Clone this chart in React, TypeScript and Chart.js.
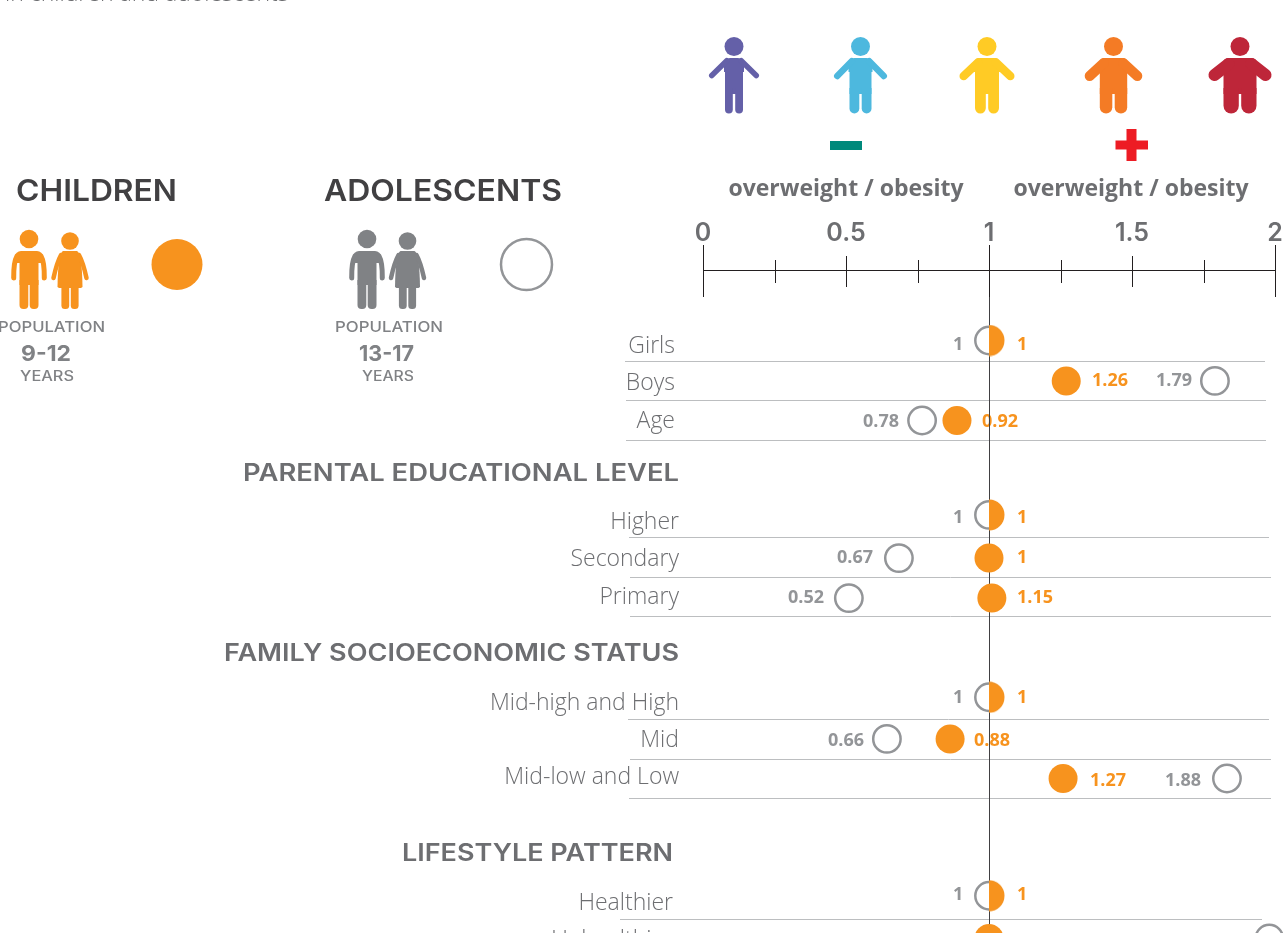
import React, { useEffect, useRef } from "react";
import { Chart, registerables } from "chart.js";

Chart.register(...registerables);

const categories = ["Girls", "Boys", "Age", "Higher", "Secondary", "Primary", "Mid-high and High", "Mid", "Mid-low and Low", "Healthier", "Unhealthier"];
const rowPositions = [0, 1.01, 2, 4.36, 5.44, 6.44, 8.92, 9.96, 10.95, 13.88, 14.95];
const childValues = [1, 1.27, 0.888, 1, 1, 1.01, 1, 0.864, 1.259, 1, 1];
const adolescentValues = [1, 1.79, 0.766, 1, 0.685, 0.51, 1, 0.643, 1.832, 1, 1.98];
const childLabels = ["1", "1.26", "0.92", "1", "1", "1.15", "1", "0.88", "1.27", "1", ""];
const adolescentLabels = ["1", "1.79", "0.78", "1", "0.67", "0.52", "1", "0.66", "1.88", "1", ""];
const axisLabels = ["0", "0.5", "1", "1.5", "2"];

const sectionHeaders = [
  { text: "PARENTAL EDUCATIONAL LEVEL", left: 243, right: 679, base: 481 },
  { text: "FAMILY SOCIOECONOMIC STATUS", left: 224, right: 679, base: 661 },
  { text: "LIFESTYLE PATTERN", left: 402, right: 673, base: 861 },
];

// decoration layout for each row: label right edge/baseline, separator, value-label anchors
const rowLayout = [
  { r: 675, b: 353, l: 625, e: 1265, s: 361, cx: 1017, ax: 953, vy: 350 },
  { r: 675, b: 390, l: 626, e: 1266, s: 400, cx: 1092, ax: 1156, vy: 386 },
  { r: 675, b: 428, l: 626, e: 1266, s: 440, cx: 982, ax: 863, vy: 427 },
  { r: 679, b: 529, l: 629, e: 1269, s: 537, cx: 1017, ax: 953, vy: 523 },
  { r: 679, b: 566, l: 630, e: 1271, s: 577, cx: 1017, ax: 837, vy: 563 },
  { r: 679, b: 604, l: 630, e: 1271, s: 616, cx: 1017, ax: 788, vy: 603 },
  { r: 679, b: 710, l: 628, e: 1269, s: 719, cx: 1017, ax: 953, vy: 703 },
  { r: 679, b: 747, l: 630, e: 1271, s: 759, cx: 974, ax: 828, vy: 746 },
  { r: 679, b: 784, l: 629, e: 1271, s: 798, cx: 1090, ax: 1165, vy: 786 },
  { r: 673, b: 910, l: 620, e: 1262, s: 919, cx: 1017, ax: 953, vy: 900 },
  { r: 673, b: 947, l: 620, e: 1262, s: 958, cx: 1017, ax: 953, vy: 950 },
];

const ORANGE = "#F7931E";
const RING = "#939598";
const GREY = "#6D6E71";
const ICON_GREY = "#808285";

type Ctx = CanvasRenderingContext2D;

function text(ctx: Ctx, s: string, x: number, y: number, font: string, color: string, align: CanvasTextAlign = "left") {
  ctx.font = font;
  ctx.fillStyle = color;
  ctx.textAlign = align;
  ctx.textBaseline = "alphabetic";
  ctx.fillText(s, x, y);
}

// geometric display face: stretch horizontally to fill the given extent
function wide(ctx: Ctx, s: string, left: number, right: number, y: number, font: string, color: string) {
  ctx.save();
  ctx.font = font;
  ctx.fillStyle = color;
  ctx.textAlign = "left";
  ctx.textBaseline = "alphabetic";
  const m = ctx.measureText(s).width;
  ctx.translate(left, y);
  ctx.scale((right - left) / m, 1);
  ctx.fillText(s, 0, 0);
  ctx.restore();
}

function rr(ctx: Ctx, x: number, y: number, w: number, h: number, radii: number[] | number) {
  ctx.beginPath();
  ctx.roundRect(x, y, w, h, radii as any);
  ctx.fill();
}

function person(ctx: Ctx, cx: number, color: string, half: number, span: number, arm: number, endY: number, headR: number) {
  ctx.fillStyle = color;
  ctx.strokeStyle = color;
  ctx.beginPath();
  ctx.arc(cx, 46.5, headR, 0, Math.PI * 2);
  ctx.fill();
  rr(ctx, cx - half - 1, 58, half * 2 + 2, 14, [6, 6, 0, 0]);
  rr(ctx, cx - half, 62, half * 2, 32, 0);
  const legW = half - 1.2;
  rr(ctx, cx - half, 88, legW, 25.5, [0, 0, legW / 2, legW / 2]);
  rr(ctx, cx + 1.2, 88, legW, 25.5, [0, 0, legW / 2, legW / 2]);
  ctx.lineCap = "round";
  ctx.lineJoin = "round";
  ctx.lineWidth = arm;
  for (const d of [-1, 1]) {
    ctx.beginPath();
    ctx.moveTo(cx + d * (half - arm / 2 + 1), 58 + arm / 2);
    ctx.lineTo(cx + d * (span - arm / 2), endY);
    ctx.stroke();
  }
  ctx.lineCap = "butt";
}

function boy(ctx: Ctx, cx: number, color: string) {
  ctx.fillStyle = color;
  ctx.strokeStyle = color;
  ctx.beginPath();
  ctx.arc(cx, 239, 9.3, 0, Math.PI * 2);
  ctx.fill();
  rr(ctx, cx - 14, 251, 28, 12, [6, 6, 0, 0]);
  rr(ctx, cx - 9.5, 255, 19, 30, 0);
  rr(ctx, cx - 9.5, 280, 8.8, 29, [0, 0, 4, 4]);
  rr(ctx, cx + 0.7, 280, 8.8, 29, [0, 0, 4, 4]);
  ctx.lineCap = "round";
  ctx.lineWidth = 5;
  for (const d of [-1, 1]) {
    ctx.beginPath();
    ctx.moveTo(cx + d * 12, 256);
    ctx.quadraticCurveTo(cx + d * 15.5, 262, cx + d * 15.3, 278);
    ctx.stroke();
  }
  ctx.lineCap = "butt";
}

function girl(ctx: Ctx, cx: number, color: string) {
  ctx.fillStyle = color;
  ctx.strokeStyle = color;
  ctx.beginPath();
  ctx.arc(cx, 241, 8.8, 0, Math.PI * 2);
  ctx.fill();
  ctx.beginPath();
  ctx.moveTo(cx - 7, 251);
  ctx.lineTo(cx + 7, 251);
  ctx.quadraticCurveTo(cx + 12, 253, cx + 12.5, 287);
  ctx.lineTo(cx + 11, 288);
  ctx.lineTo(cx - 11, 288);
  ctx.lineTo(cx - 12.5, 287);
  ctx.quadraticCurveTo(cx - 12, 253, cx - 7, 251);
  ctx.fill();
  rr(ctx, cx - 8.6, 285, 7.8, 24, [0, 0, 3.5, 3.5]);
  rr(ctx, cx + 0.8, 285, 7.8, 24, [0, 0, 3.5, 3.5]);
  ctx.lineCap = "round";
  ctx.lineWidth = 4.5;
  for (const d of [-1, 1]) {
    ctx.beginPath();
    ctx.moveTo(cx + d * 9, 255);
    ctx.quadraticCurveTo(cx + d * 13, 262, cx + d * 16.5, 278);
    ctx.stroke();
  }
  ctx.lineCap = "butt";
}

function halfMarker(): HTMLCanvasElement {
  const c = document.createElement("canvas");
  c.width = 32;
  c.height = 32;
  const g = c.getContext("2d")!;
  g.fillStyle = ORANGE;
  g.beginPath();
  g.arc(16, 16, 15.5, -Math.PI / 2, Math.PI / 2);
  g.closePath();
  g.fill();
  return c;
}

const decorations = {
  id: "decorations",
  beforeDatasetsDraw(chart: any) {
    const ctx: Ctx = chart.ctx;
    const x = chart.scales.x;
    ctx.save();

    // clipped subtitle
    text(ctx, "in children and adolescents", 5, 1, '300 23px "Open Sans"', GREY);

    // body-type pictograms
    person(ctx, 734, "#6460A8", 9, 25, 5.5, 75.5, 9.5);
    person(ctx, 860.5, "#4DB8DE", 11, 26.5, 6.5, 76, 9.5);
    person(ctx, 987, "#FFCB25", 12, 27.5, 8.5, 76, 9.5);
    person(ctx, 1113.5, "#F47B25", 13.7, 28.8, 10, 76, 9.5);
    person(ctx, 1240, "#BE2639", 16.5, 31.5, 12, 75, 9.5);

    ctx.fillStyle = "#00897B";
    ctx.fillRect(830, 141, 32, 9);
    ctx.fillStyle = "#ED1C24";
    ctx.fillRect(1115.5, 140.5, 32.5, 9);
    ctx.fillRect(1126.5, 129, 10, 32);

    text(ctx, "overweight / obesity", 846, 196, '700 23px "Open Sans"', GREY, "center");
    text(ctx, "overweight / obesity", 1131, 196, '700 23px "Open Sans"', GREY, "center");

    // children / adolescents key
    wide(ctx, "CHILDREN", 16, 177, 201, "600 30px Inter", "#414042");
    wide(ctx, "ADOLESCENTS", 324, 562, 201, "600 30px Inter", "#414042");
    boy(ctx, 29, ORANGE);
    girl(ctx, 70, ORANGE);
    boy(ctx, 367, ICON_GREY);
    girl(ctx, 407.5, ICON_GREY);
    ctx.fillStyle = ORANGE;
    ctx.beginPath();
    ctx.arc(177, 264.5, 25.5, 0, Math.PI * 2);
    ctx.fill();
    ctx.strokeStyle = RING;
    ctx.lineWidth = 2.5;
    ctx.beginPath();
    ctx.arc(526.5, 264.5, 25.5, 0, Math.PI * 2);
    ctx.stroke();
    wide(ctx, "POPULATION", -2, 105, 332, "500 15px Inter", ICON_GREY);
    wide(ctx, "9-12", 21, 71, 361, "700 22px Inter", ICON_GREY);
    wide(ctx, "YEARS", 20, 74, 381, "500 14px Inter", ICON_GREY);
    wide(ctx, "POPULATION", 335, 443, 332, "500 15px Inter", ICON_GREY);
    wide(ctx, "13-17", 359, 414, 361, "700 22px Inter", ICON_GREY);
    wide(ctx, "YEARS", 362, 414, 381, "500 14px Inter", ICON_GREY);

    // axis ticks, taken from the scale's own ticks
    ctx.strokeStyle = "#231F20";
    ctx.lineWidth = 1;
    x.ticks.forEach((t: any) => {
      const px = Math.round(x.getPixelForValue(t.value)) + 0.5;
      const isEnd = t.value % 1 === 0;
      const isHalf = t.value % 0.5 === 0;
      const top = isEnd ? 245 : isHalf ? 256 : 260;
      const bottom = isEnd ? 297 : isHalf ? 287 : 283;
      ctx.beginPath();
      ctx.moveTo(px, top);
      ctx.lineTo(px, bottom);
      ctx.stroke();
    });

    // section headers, row labels, separators
    sectionHeaders.forEach((h) => wide(ctx, h.text, h.left, h.right, h.base, "600 24px Inter", GREY));
    categories.forEach((c, i) => {
      const l = rowLayout[i];
      text(ctx, c, l.r, l.b, '300 23px "Open Sans"', GREY, "right");
      ctx.strokeStyle = "#BCBEC0";
      ctx.lineWidth = 1;
      ctx.beginPath();
      ctx.moveTo(l.l, l.s + 0.5);
      ctx.lineTo(l.e, l.s + 0.5);
      ctx.stroke();
      if (childLabels[i]) text(ctx, childLabels[i], l.cx, l.vy, '700 18px "Open Sans"', ORANGE);
      if (adolescentLabels[i]) text(ctx, adolescentLabels[i], l.ax, l.vy, '700 18px "Open Sans"', RING);
    });

    // reference line at 1
    const ref = Math.round(x.getPixelForValue(1)) + 0.5;
    ctx.strokeStyle = "#414042";
    ctx.lineWidth = 1;
    ctx.beginPath();
    ctx.moveTo(ref, 297);
    ctx.lineTo(ref, 933);
    ctx.stroke();
    ctx.restore();
  },
};

export default function App() {
  const ref = useRef<HTMLCanvasElement>(null);
  useEffect(() => {
    const half = halfMarker();
    const chart = new Chart(ref.current!, {
      type: "scatter",
      data: {
        labels: categories,
        datasets: [
          {
            label: "Adolescents 13-17 years",
            data: adolescentValues.map((v, i) => ({ x: v, y: rowPositions[i] })),
            order: 2,
            pointStyle: "circle",
            pointRadius: 13.7,
            pointBorderWidth: 2.5,
            pointBorderColor: RING,
            pointBackgroundColor: "rgba(255,255,255,0)",
            clip: false,
          },
          {
            label: "Children 9-12 years",
            data: childValues.map((v, i) => ({ x: v, y: rowPositions[i] })),
            order: 1,
            pointStyle: (c: any) => (c.raw && c.raw.x === 1 && adolescentValues[c.dataIndex] === 1 ? half : "circle"),
            pointRadius: 14.5,
            pointBorderWidth: 0,
            pointBackgroundColor: ORANGE,
            clip: false,
          },
        ],
      } as any,
      options: {
        responsive: false,
        animation: false,
        events: [],
        layout: { autoPadding: false, padding: { left: 703, right: 8, top: 200, bottom: 0 } },
        plugins: { legend: { display: false }, tooltip: { enabled: false } },
        scales: {
          x: {
            type: "linear",
            position: "top",
            min: 0,
            max: 2,
            afterFit(scale: any) {
              scale.height = 70;
              scale.paddingLeft = 0;
              scale.paddingRight = 0;
            },
            grid: { display: false, drawTicks: false },
            border: { display: true, color: "#231F20", width: 1 },
            ticks: {
              stepSize: 0.25,
              autoSkip: false,
              maxRotation: 0,
              padding: 22,
              color: GREY,
              font: { family: "Inter", size: 25, weight: 600 },
              callback(v: any) {
                const idx = Number(v) / 0.5;
                return Number.isInteger(idx) ? axisLabels[idx] : "";
              },
            },
          },
          y: {
            type: "linear",
            display: false,
            reverse: true,
            min: -1.7625,
            max: 14.8125,
          },
        },
      } as any,
      plugins: [decorations],
    });
    return () => chart.destroy();
  }, []);
  return (
    <div style={{ position: "fixed", left: 0, top: 0, width: 1283, height: 933, overflow: "hidden", background: "#fff" }}>
      <canvas ref={ref} width={1283} height={933} style={{ display: "block" }} />
    </div>
  );
}
